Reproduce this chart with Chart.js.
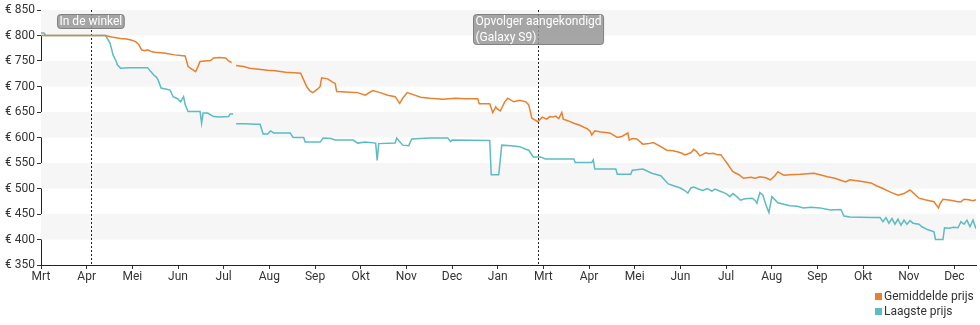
<!DOCTYPE html>
<html>
<head>
<meta charset="utf-8">
<script src="https://cdn.jsdelivr.net/npm/chart.js@4/dist/chart.umd.min.js"></script>
<style>
html,body{margin:0;padding:0;background:#fff;}
#wrap{position:relative;width:980px;height:325px;}
#legend{position:absolute;left:875px;top:289px;font:12px Roboto, sans-serif;color:#333;line-height:15px;}
#legend div{white-space:nowrap;}
#legend span.sw{display:inline-block;width:7px;height:7px;margin-right:2px;vertical-align:0px;}
</style>
</head>
<body>
<div id="wrap">
<canvas id="c" width="980" height="325"></canvas>
<div id="legend"></div>
</div>
<script>
// Maandlabels (gelijk verdeeld, één label per maand)
const maandLabels = ['Mrt','Apr','Mei','Jun','Jul','Aug','Sep','Okt','Nov','Dec','Jan','Mrt','Apr','Mei','Jun','Jul','Aug','Sep','Okt','Nov','Dec'];
const dagenPerMaand = 30.43;
const laatsteDag = 623;

// Gemiddelde prijs (dag, prijs)
const gemDag = [0,13,26,39,43,47,53,57,60,63,65,67,69,71,74,76,83,89,96,97,98,101,103,104,106,109,113,115,119,123,125,127,129,130,135,139,145,151,156,163,169,173,175,177,179,181,183,185,186,187,191,194,196,197,203,211,216,221,226,231,236,239,241,244,248,253,259,268,276,283,291,292,299,301,303,304,306,309,311,315,319,323,325,327,331,334,337,339,341,343,345,347,348,351,355,359,364,366,367,369,373,379,384,387,391,392,394,397,401,405,408,413,417,421,424,427,429,433,435,437,439,443,445,448,451,453,455,457,461,465,468,473,476,479,483,486,489,491,493,495,499,506,515,519,524,529,536,539,546,553,557,561,566,571,575,579,581,585,589,595,597,598,599,601,606,611,613,615,618,621,623];
const gemPrijs = [800,800,800,800,800,797,794,793,791,788,783,772,770,772,768,767,765,762,760,750,739,733,729,735,749,750,751,756,757,756,750,747,null,741,739,736,734,732,731,728,727,726,713,700,692,688,692,697,700,717,715,709,706,690,689,688,683,692,688,683,680,667,677,688,684,679,677,675,677,676,676,666,666,649,660,656,652,670,677,670,673,670,664,638,631,640,636,641,640,642,637,649,636,633,628,624,617,612,605,613,611,609,600,602,609,595,598,597,587,588,590,582,575,574,572,569,566,570,577,572,564,570,568,569,566,566,558,550,533,527,520,522,520,523,521,517,525,533,529,526,527,528,530,527,523,520,513,517,514,511,505,500,493,487,490,497,492,481,478,474,466,462,470,479,477,474,474,479,478,476,478];

// Laagste prijs (dag, prijs)
const laagDag = [0,2,3,13,26,39,43,46,48,50,51,53,59,66,71,73,75,77,78,80,83,86,88,91,93,95,96,98,101,105,106,107,108,111,115,119,125,126,128,129,130,136,143,146,148,151,153,155,166,168,175,176,186,188,193,196,208,211,216,223,224,225,236,237,241,245,247,259,271,273,274,299,300,305,307,313,319,323,325,328,333,336,355,356,367,368,369,383,384,393,394,401,407,413,416,418,421,424,426,429,431,433,435,438,441,444,447,449,453,455,457,459,461,464,466,469,474,476,477,479,481,483,485,487,491,495,499,504,508,513,519,526,533,535,539,553,559,561,563,565,567,569,571,573,575,577,579,581,585,587,591,595,596,601,602,605,608,611,613,615,617,619,621,623];
const laagPrijs = [805,805,800,800,800,800,800,785,762,750,742,736,737,737,737,730,723,718,713,697,695,693,680,676,670,680,665,651,651,651,651,628,648,648,641,640,641,646,646,null,627,627,626,626,607,607,613,609,609,600,600,591,591,599,598,595,595,589,591,589,555,588,589,599,585,584,597,599,599,592,595,594,527,527,585,584,582,577,575,562,562,558,558,551,551,556,538,538,528,528,536,538,530,525,515,509,506,503,501,496,491,501,503,499,496,500,495,499,494,492,489,484,490,483,477,480,481,476,471,492,487,468,453,484,472,469,466,465,462,463,462,458,459,446,444,443,443,435,443,432,441,430,440,428,438,430,437,432,430,425,419,415,400,400,423,422,424,423,435,430,438,425,438,421];

// Y-as
const yMin = 350, yMax = 850, yStap = 50;

// Annotaties
const annotDag = [33, 331];
const annotTekst = [['In de winkel'], ['Opvolger aangekondigd', '(Galaxy S9)']];

// Legenda / reeksen
const reeksNamen = ['Gemiddelde prijs', 'Laagste prijs'];
const reeksKleuren = ['#e8802e', '#5dbbc3'];

function punten(xs, ys) { return xs.map((x, i) => ({x: x, y: ys[i]})); }

const FONT = 'Roboto, sans-serif';

const achtergrondPlugin = {
  id: 'achtergrond',
  beforeDatasetsDraw(chart) {
    const {ctx, chartArea: a, scales: {x, y}} = chart;
    ctx.save();
    ctx.fillStyle = '#f6f6f6';
    for (let v = yMin + yStap; v < yMax; v += 2 * yStap) {
      const y1 = y.getPixelForValue(v + yStap), y2 = y.getPixelForValue(v);
      ctx.fillRect(a.left, y1, a.right - a.left, y2 - y1);
    }
    ctx.strokeStyle = '#222';
    ctx.lineWidth = 1;
    ctx.setLineDash([2, 2]);
    annotDag.forEach(d => {
      const px = Math.round(x.getPixelForValue(d)) + 0.5;
      ctx.beginPath();
      ctx.moveTo(px, a.top);
      ctx.lineTo(px, a.bottom);
      ctx.stroke();
    });
    ctx.restore();
  },
  afterDatasetsDraw(chart) {
    const {ctx, chartArea: a, scales: {x}} = chart;
    ctx.save();
    ctx.font = '12px ' + FONT;
    annotDag.forEach((d, i) => {
      const lines = annotTekst[i];
      const w = Math.max(...lines.map(t => ctx.measureText(t).width)) + 4;
      const h = lines.length * 16 - 2;
      const cx = x.getPixelForValue(d);
      const left = Math.round(cx - w / 2) + 0.5, top = a.top + 4.5;
      ctx.beginPath();
      ctx.roundRect(left, top, w, h, 3);
      ctx.fillStyle = 'rgba(150,150,150,0.85)';
      ctx.fill();
      ctx.strokeStyle = 'rgba(110,110,110,0.8)';
      ctx.lineWidth = 1;
      ctx.stroke();
      ctx.fillStyle = '#fff';
      ctx.textBaseline = 'middle';
      ctx.textAlign = 'left';
      lines.forEach((t, j) => ctx.fillText(t, left + 2, top + 7 + j * 16));
    });
    ctx.restore();
  }
};

new Chart(document.getElementById('c'), {
  type: 'line',
  data: {
    datasets: [
      {label: reeksNamen[0], data: punten(gemDag, gemPrijs), borderColor: reeksKleuren[0], backgroundColor: reeksKleuren[0], borderWidth: 1.5, pointRadius: 0, tension: 0, spanGaps: false},
      {label: reeksNamen[1], data: punten(laagDag, laagPrijs), borderColor: reeksKleuren[1], backgroundColor: reeksKleuren[1], borderWidth: 1.5, pointRadius: 0, tension: 0, spanGaps: false}
    ]
  },
  options: {
    responsive: false,
    animation: false,
    events: [],
    layout: {padding: {left: 0, top: 10, right: 4, bottom: 0}},
    plugins: {legend: {display: false}, tooltip: {enabled: false}},
    scales: {
      x: {
        type: 'linear', min: 0, max: laatsteDag,
        afterBuildTicks: s => { s.ticks = maandLabels.map((l, i) => ({value: i * dagenPerMaand})); },
        afterFit: s => { s.height = 60; },
        ticks: {autoSkip: false, maxRotation: 0, padding: 1, color: '#333', font: {family: FONT, size: 12},
          callback: (v, i) => maandLabels[i]},
        grid: {drawOnChartArea: false, drawTicks: true, tickLength: 4, color: '#333'},
        border: {display: true, color: '#222', width: 1}
      },
      y: {
        min: yMin, max: yMax,
        afterFit: s => { s.width = 41; },
        ticks: {stepSize: yStap, padding: 2, color: '#333', font: {family: FONT, size: 12},
          callback: v => '€ ' + v},
        grid: {drawOnChartArea: false, drawTicks: true, tickLength: 4, color: '#333'},
        border: {display: true, color: '#222', width: 1}
      }
    }
  },
  plugins: [achtergrondPlugin]
});

const leg = document.getElementById('legend');
reeksNamen.forEach((n, i) => {
  const d = document.createElement('div');
  const s = document.createElement('span');
  s.className = 'sw';
  s.style.background = reeksKleuren[i];
  d.appendChild(s);
  d.appendChild(document.createTextNode(n));
  leg.appendChild(d);
});
</script>
</body>
</html>
